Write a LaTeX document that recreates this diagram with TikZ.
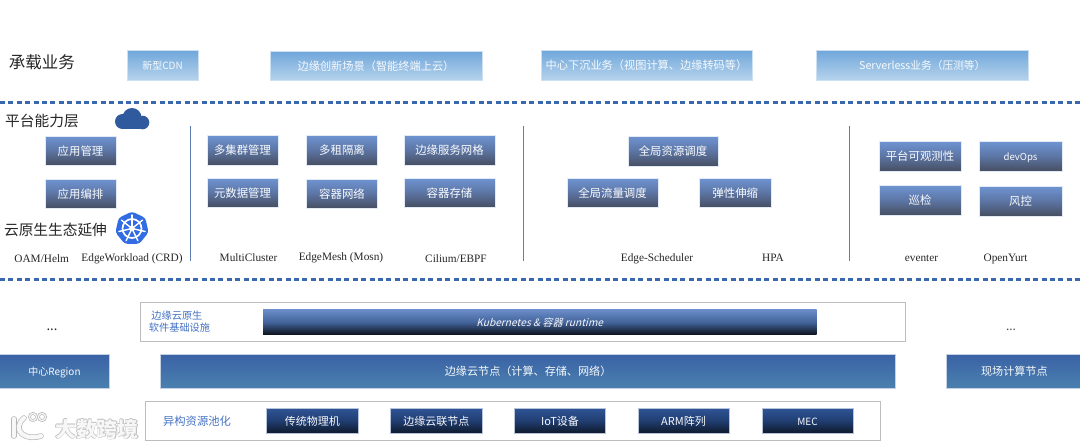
\documentclass[tikz,border=0pt]{standalone}
\usepackage{fontspec}
\setmainfont{Noto Sans CJK SC}
\newfontfamily\labelfont{Liberation Serif}
\newfontfamily\slantfont[FakeSlant=0.25]{Noto Sans CJK SC}
\usetikzlibrary{shapes.geometric,calc}
\definecolor{dashblue}{HTML}{3A68AE}
\definecolor{topA}{HTML}{6FA6DA}
\definecolor{topB}{HTML}{B6D3EC}
\definecolor{midA}{HTML}{6F94D2}
\definecolor{midM}{HTML}{5C75A4}
\definecolor{midB}{HTML}{474F62}
\definecolor{regA}{HTML}{3A62A6}
\definecolor{regB}{HTML}{4A80AE}
\definecolor{resA}{HTML}{2F5597}
\definecolor{resM}{HTML}{213E72}
\definecolor{resB}{HTML}{0E1A2C}
\definecolor{kubeA}{HTML}{6C8ECB}
\definecolor{kubeM}{HTML}{44659C}
\definecolor{kubeB}{HTML}{0C121C}
\definecolor{txtblue}{HTML}{4472C4}
\definecolor{boxgray}{HTML}{BDBDBD}
\definecolor{cloudblue}{HTML}{2F5A9E}
\definecolor{kubeblue}{HTML}{326CE5}
\tikzset{
  x=1pt,y=-1pt,
  base/.style={inner sep=0pt,outer sep=0pt,align=center,text=white,text height=1em,text depth=0.1em},
  topbox/.style={base,draw=topB!70!white,line width=0.6pt,top color=topA,bottom color=topB,text=white!94!topA},
  midbox/.style={base,draw=white!80!midA,line width=0.5pt,top color=midA,bottom color=midB,middle color=midM,font=\fontsize{11.4}{13}\selectfont,text=white!96!midA},
  regbox/.style={base,draw=white!70!regA,line width=0.5pt,top color=regA,bottom color=regB,font=\fontsize{11.1}{13}\selectfont,text=white!96!regA},
  resbox/.style={base,draw=white!65!resA,line width=0.5pt,top color=resA,bottom color=resB,middle color=resM,font=\fontsize{11}{13}\selectfont,text=white!96!resA},
  frame/.style={draw=boxgray,line width=1pt,fill=white,inner sep=0pt,outer sep=0pt},
  headtxt/.style={inner sep=0pt,text=black!85,anchor=center},
  sw/.style={inner sep=0pt,text=black!85,font=\labelfont\fontsize{11.3}{12}\selectfont,anchor=center},
  sepline/.style={draw=midA!85!black,line width=1pt},
  dashline/.style={draw=dashblue,line width=2.2pt,dash pattern=on 5pt off 3.4pt},
}
% box by corners: name, x0,y0,x1,y1, style, text
\newcommand{\bx}[7]{\node[#6,minimum width=#4pt-#2pt,minimum height=#5pt-#3pt] (#1) at ({(#2+#4)/2},{(#3+#5)/2}) {#7};}
\begin{document}
\begin{tikzpicture}
\useasboundingbox (0,0) rectangle (1080,447);
\fill[white] (0,0) rectangle (1080,447);

% dashed separators
\coordinate (d1a) at (0,102.5); \coordinate (d1b) at (1080,102.5);
\coordinate (d2a) at (0,279.5); \coordinate (d2b) at (1080,279.5);
\draw[dashline] (d1a) -- (d1b);
\draw[dashline] (d2a) -- (d2b);

% vertical separators
\coordinate (v1a) at (190,126); \coordinate (v1b) at (190,261);
\coordinate (v2a) at (523.4,126); \coordinate (v2b) at (523.4,261);
\coordinate (v3a) at (849,126); \coordinate (v3b) at (849,261);
\draw[sepline] (v1a) -- (v1b);
\draw[sepline] (v2a) -- (v2b);
\draw[sepline] (v3a) -- (v3b);

% headings
\node[headtxt,font=\fontsize{16.5}{18}\selectfont] (h1) at (42,62.5) {承载业务};
\node[headtxt,font=\fontsize{14.7}{16}\selectfont] (h2) at (42,120.5) {平台能力层};
\node[headtxt,font=\fontsize{14.7}{16}\selectfont] (h3) at (55.5,229.5) {云原生生态延伸};

% top row
\bx{t1}{127}{50}{198}{80}{topbox,font=\fontsize{10}{12}\selectfont}{新型CDN}
\bx{t2}{270}{51}{482}{80.5}{topbox,font=\fontsize{11.2}{12}\selectfont}{边缘创新场景（智能终端上云）}
\bx{t3}{541}{50}{752}{80}{topbox,font=\fontsize{11.2}{12}\selectfont}{中心下沉业务（视图计算、边缘转码等）}
\bx{t4}{816.5}{50}{1028}{80}{topbox,font=\fontsize{10.7}{12}\selectfont}{Serverless业务（压测等）}

% cloud icon
\fill[cloudblue] (122.5,121.5) circle[radius=7.5];
\fill[cloudblue] (132,117.5) circle[radius=9.5];
\fill[cloudblue] (142.5,122.5) circle[radius=6.8];
\fill[cloudblue] (122,122) rectangle (142.5,129.2);

% kubernetes icon
\node[regular polygon,regular polygon sides=7,minimum size=34pt,fill=kubeblue,rounded corners=3pt,inner sep=0pt] (kube) at (132,228.5) {};
\draw[white,line width=1.7pt] (kube.center) circle[radius=9.5];
\fill[white] (kube.center) circle[radius=2.8];
\foreach \a in {90,141.4,192.9,244.3,295.7,347.1,38.6}{
  \draw[white,line width=1.4pt,line cap=round] (kube.center) -- ++(\a:-13.5);
}

% platform boxes
\bx{a1}{45}{136}{116}{165}{midbox}{应用管理}
\bx{a2}{45}{179}{116}{208}{midbox}{应用编排}
\bx{b1}{207}{135}{278}{165}{midbox}{多集群管理}
\bx{b2}{207}{178}{278}{207}{midbox}{元数据管理}
\bx{c1}{306.5}{135}{377.5}{165}{midbox}{多租隔离}
\bx{c2}{306.5}{179}{377.5}{208}{midbox}{容器网络}
\bx{d1}{404}{135}{495}{165}{midbox}{边缘服务网格}
\bx{d2}{404}{178}{495}{207}{midbox}{容器存储}
\bx{e1}{628}{136}{718}{166}{midbox}{全局资源调度}
\bx{e2}{567}{178}{658}{207}{midbox}{全局流量调度}
\bx{e3}{699.5}{178}{771}{207}{midbox}{弹性伸缩}
\bx{f1}{879}{141.5}{961}{171}{midbox}{平台可观测性}
\bx{f2}{979}{141.5}{1062}{171}{midbox,font=\fontsize{9.6}{12}\selectfont}{devOps}
\bx{f3}{879}{185.5}{961}{215}{midbox}{巡检}
\bx{f4}{979}{186}{1062}{216}{midbox}{风控}

% software labels
\node[sw] (s1) at (41.7,259) {OAM/Helm};
\node[sw] (s2) at (132,259) {EdgeWorkload (CRD)};
\node[sw] (s3) at (248.6,257.7) {MultiCluster};
\node[sw] (s4) at (341,257.7) {EdgeMesh (Mosn)};
\node[sw] (s5) at (456,259) {Cilium/EBPF};
\node[sw] (s6) at (657,259) {Edge-Scheduler};
\node[sw] (s7) at (773,258) {HPA};
\node[sw] (s8) at (921.5,258) {eventer};
\node[sw] (s9) at (1005.6,259) {OpenYurt};

% infrastructure frame
\bx{inf}{140}{302.7}{905}{341.3}{frame}{}
\node[inner sep=0pt,text=txtblue,font=\fontsize{10.2}{12}\selectfont,align=left] (inft) at (179.5,321.7) {\hspace*{2.5pt}边缘云原生\\[0pt]软件基础设施};
\bx{kb}{263}{309}{816.5}{334.7}{base,top color=kubeA,bottom color=kubeB,middle color=kubeM,font=\slantfont\fontsize{10.2}{12}\selectfont,text=white!94!kubeA}{Kubernetes \& 容器 runtime}
\node[inner sep=0pt,text=black!85,font=\fontsize{13}{14}\selectfont] (dl) at (52,330) {...};
\node[inner sep=0pt,text=black!70,font=\fontsize{12}{14}\selectfont] (dr) at (1011,330) {...};

% node row
\bx{r1}{-2}{354}{109}{388}{regbox,font=\fontsize{10}{12}\selectfont}{\hspace*{2pt}中心Region}
\bx{r2}{160.5}{354}{895.7}{388}{regbox}{边缘云节点（计算、存储、网络）}
\bx{r3}{946.7}{354}{1082}{388}{regbox}{现场计算节点}

% resource pool
\bx{pool}{145}{401.7}{880.6}{440}{frame}{}
\node[inner sep=0pt,text=txtblue,font=\fontsize{11.3}{13}\selectfont] (poolt) at (197,421) {异构资源池化};
\bx{p1}{266.5}{408}{358}{433}{resbox}{传统物理机}
\bx{p2}{390.5}{408}{482}{433}{resbox}{边缘云联节点}
\bx{p3}{514.5}{408}{605.5}{433}{resbox}{IoT设备}
\bx{p4}{638}{408}{729}{433}{resbox}{ARM阵列}
\bx{p5}{762}{408}{853}{433}{resbox,font=\fontsize{10}{12}\selectfont}{MEC}

% watermark
\foreach \dx/\dy in {-0.8/0,0.8/0,0/-0.8,0/0.8,0.8/0.8}{
  \node[inner sep=0pt,text=black!25,font=\fontsize{21}{24}\bfseries\selectfont] at (97+\dx,429+\dy) {大数跨境};
}
\node[inner sep=0pt,text=white!97!black,font=\fontsize{21}{24}\bfseries\selectfont] (wm) at (97,429) {大数跨境};
\begin{scope}[line cap=round]
  \foreach \col/\w/\d in {black!28/5.6/1.4,white!97!black/4.2/0}{
    \draw[\col,line width=\w pt] (14,419) -- (14,436);
    \draw[\col,line width=\w pt] (24,418) .. controls (18,423) and (17,430) .. (22,434) .. controls (27,438) and (35,438) .. (41,436);
    \draw[\col,line width=1.2pt+\d pt] (33,417) circle[radius=3.6];
    \draw[\col,line width=1.2pt+\d pt] (42,417) circle[radius=3.6];
  }
\end{scope}
\end{tikzpicture}
\end{document}
